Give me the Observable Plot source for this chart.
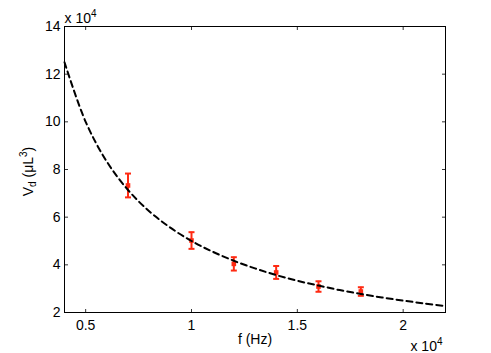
<!DOCTYPE html>
<html><head><meta charset="utf-8">
<script src="https://cdn.jsdelivr.net/npm/d3@7"></script>
<script src="https://cdn.jsdelivr.net/npm/@observablehq/plot@0.6"></script>
<style>
body{margin:0;background:#fff}
#chart svg{font-family:"Liberation Sans",Arial,Helvetica,sans-serif;background:#fff}
</style>
</head><body><div id="chart"></div>
<script>
// measured points (f in Hz, Vd in µL^3)
const freq = [7000, 10000, 12000, 14000, 16000, 18000];
const volume = [73300, 50200, 40400, 36800, 30900, 28800];
const volumeErr = [5000, 3500, 2800, 2700, 2200, 1800];
// dashed fit curve
const fitFreq = [4000, 5000, 6000, 7000, 8000, 9000, 10000, 11000, 12000, 13000, 14000, 15000, 16000, 17000, 18000, 19000, 20000, 21000, 22000];
const fitVolume = [125000, 100000, 83300, 71400, 62500, 55600, 50000, 45500, 41700, 38500, 35700, 33300, 31300, 29400, 27800, 26300, 25000, 23800, 22700];
// ticks
const xTicks = [5000, 10000, 15000, 20000];
const yTicks = [20000, 40000, 60000, 80000, 100000, 120000, 140000];
const xLabel = "f (Hz)";
const yLabel = "V_d (μL^3)";
const expLabel = "x 10^4";

const points = freq.map((f, i) => ({f, v: volume[i], lo: volume[i] - volumeErr[i], hi: volume[i] + volumeErr[i]}));
const fit = fitFreq.map((f, i) => ({f, v: fitVolume[i]}));

const red = "#ff2a12";
const fontSize = 14;

// custom symbols
const hLine = {draw(ctx, size) { const r = Math.sqrt(size / Math.PI); ctx.moveTo(-r, 0); ctx.lineTo(r, 0); }};
const tickUp = {draw(ctx, size) { const l = Math.sqrt(size / Math.PI); ctx.moveTo(0, 0); ctx.lineTo(0, -l); }};
const tickDown = {draw(ctx, size) { const l = Math.sqrt(size / Math.PI); ctx.moveTo(0, 0); ctx.lineTo(0, l); }};
const tickRight = {draw(ctx, size) { const l = Math.sqrt(size / Math.PI); ctx.moveTo(0, 0); ctx.lineTo(l, 0); }};
const tickLeft = {draw(ctx, size) { const l = Math.sqrt(size / Math.PI); ctx.moveTo(0, 0); ctx.lineTo(-l, 0); }};

const fmt = d => String(d / 1e4);

const chart = Plot.plot({
  width: 491,
  height: 353,
  marginLeft: 64,
  marginRight: 46,
  marginTop: 26,
  marginBottom: 41,
  style: {fontSize: fontSize + "px", fontFamily: '"Liberation Sans", Arial, sans-serif', background: "#fff", color: "black"},
  x: {domain: [4000, 22000]},
  y: {domain: [20000, 140000]},
  marks: [
    Plot.axisX(xTicks, {tickSize: 0, tickPadding: 8, tickFormat: fmt, label: null, fontSize}),
    Plot.axisY(yTicks, {tickSize: 0, tickPadding: 4, tickFormat: fmt, label: null, fontSize}),
    // inward ticks on all four sides
    Plot.dot(xTicks, {x: d => d, frameAnchor: "bottom", symbol: tickUp, r: 3.5, stroke: "#333", fill: "none", strokeWidth: 1}),
    Plot.dot(xTicks, {x: d => d, frameAnchor: "top", symbol: tickDown, r: 3.5, stroke: "#333", fill: "none", strokeWidth: 1}),
    Plot.dot(yTicks, {y: d => d, frameAnchor: "left", symbol: tickRight, r: 3.5, stroke: "#333", fill: "none", strokeWidth: 1}),
    Plot.dot(yTicks, {y: d => d, frameAnchor: "right", symbol: tickLeft, r: 3.5, stroke: "#333", fill: "none", strokeWidth: 1}),
    // error bars
    Plot.ruleX(points, {x: "f", y1: "lo", y2: "hi", stroke: red, strokeWidth: 2}),
    Plot.dot(points, {x: "f", y: "hi", symbol: hLine, r: 3, stroke: red, fill: "none", strokeWidth: 2}),
    Plot.dot(points, {x: "f", y: "lo", symbol: hLine, r: 3, stroke: red, fill: "none", strokeWidth: 2}),
    Plot.dot(points, {x: "f", y: "v", symbol: "square", r: 2.6, fill: red, stroke: "none"}),
    // fit curve
    Plot.line(fit, {x: "f", y: "v", stroke: "black", strokeWidth: 2, strokeDasharray: "6,4", curve: "catmull-rom"}),
    Plot.frame({stroke: "black", strokeWidth: 1}),
    // labels
    Plot.text([xLabel], {frameAnchor: "bottom", dy: 31, lineAnchor: "bottom", textAnchor: "middle", fontSize}),
    Plot.text([yLabel], {frameAnchor: "left", dx: -32, dy: 2, rotate: -90, lineAnchor: "bottom", textAnchor: "middle", fontSize}),
    Plot.text([expLabel], {frameAnchor: "top-left", dy: -4, lineAnchor: "bottom", textAnchor: "start", fontSize}),
    Plot.text([expLabel], {frameAnchor: "bottom-right", dx: -3, dy: 38, lineAnchor: "bottom", textAnchor: "end", fontSize})
  ]
});

// turn _x / ^x markers into sub/superscripts
d3.select(chart).selectAll("text").each(function() {
  const t = this.textContent;
  if (!/[_^]/.test(t) || this.querySelector("tspan")) return;
  const tokens = t.split(/([_^].)/).filter(s => s.length);
  this.textContent = "";
  let shift = 0;
  for (const tok of tokens) {
    const ts = document.createElementNS("http://www.w3.org/2000/svg", "tspan");
    if (tok[0] === "_") {
      ts.textContent = tok[1];
      ts.setAttribute("dy", 3 - shift); shift = 3;
      ts.setAttribute("font-size", 10);
    } else if (tok[0] === "^") {
      ts.textContent = tok[1];
      ts.setAttribute("dy", -6 - shift); shift = -6;
      ts.setAttribute("font-size", 10);
    } else {
      ts.textContent = tok;
      if (shift) ts.setAttribute("dy", -shift);
      shift = 0;
    }
    this.appendChild(ts);
  }
});

document.getElementById("chart").appendChild(chart);
</script>
</body></html>
